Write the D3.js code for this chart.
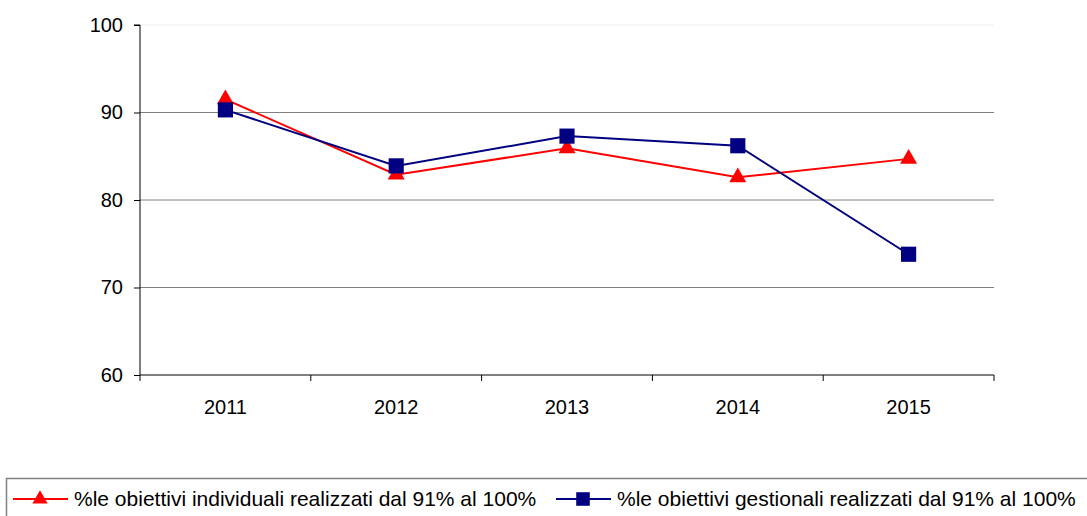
<!DOCTYPE html>
<html>
<head>
<meta charset="utf-8">
<script src="https://cdn.jsdelivr.net/npm/d3@7"></script>
<style>
body { margin: 0; background: #fff; }
svg { display: block; font-family: "Liberation Sans", Arial, sans-serif; }
</style>
</head>
<body>
<svg id="chart" width="1087" height="516"></svg>
<script>
const categories = ["2011", "2012", "2013", "2014", "2015"];
const seriesNames = [
  "%le obiettivi individuali realizzati dal 91% al 100%",
  "%le obiettivi gestionali realizzati dal 91% al 100%"
];
const individuali = [91.5, 82.9, 85.9, 82.6, 84.7];
const gestionali = [90.3, 83.9, 87.3, 86.2, 73.8];
const yTicks = [60, 70, 80, 90, 100];

const svg = d3.select("#chart");
const mLeft = 140, mRight = 994, mTop = 25, mBottom = 375;

const x = d3.scaleBand().domain(categories).range([mLeft, mRight]).padding(0);
const y = d3.scaleLinear().domain([60, 100]).range([mBottom, mTop]);
const cx = d => x(d) + x.bandwidth() / 2;

// gridlines
svg.append("g").selectAll("line")
  .data(yTicks.filter(t => t > 60))
  .join("line")
  .attr("x1", mLeft).attr("x2", mRight)
  .attr("y1", d => y(d)).attr("y2", d => y(d))
  .attr("stroke", d => d === 100 ? "#eeeeee" : "#808080")
  .attr("stroke-width", 1);

// y axis
const yAxis = svg.append("g").attr("transform", `translate(${mLeft},0)`)
  .call(d3.axisLeft(y).tickValues(yTicks).tickSize(6).tickPadding(11).tickFormat(d3.format("d")));
yAxis.select(".domain").attr("stroke", "#000").attr("d", `M-6,${mTop}H0V${mBottom}`);
yAxis.selectAll("text").attr("font-size", 20).attr("fill", "#000").attr("font-family", "Liberation Sans, Arial, sans-serif");
yAxis.selectAll(".tick line").attr("stroke", "#000");

// x axis
const xAxis = svg.append("g").attr("transform", `translate(0,${mBottom})`);
xAxis.append("line").attr("x1", mLeft).attr("x2", mRight).attr("y1", 0).attr("y2", 0).attr("stroke", "#000");
const xTickPos = categories.map(c => x(c)).concat([x(categories[categories.length - 1]) + x.bandwidth()]);
xAxis.selectAll("line.tk").data(xTickPos).join("line").attr("class", "tk")
  .attr("x1", d => d).attr("x2", d => d).attr("y1", 0).attr("y2", 6).attr("stroke", "#000");
xAxis.selectAll("text").data(categories).join("text")
  .attr("x", d => cx(d)).attr("y", 39)
  .attr("text-anchor", "middle").attr("font-size", 20).attr("fill", "#000")
  .text(d => d);

const line = d3.line().x((d, i) => cx(categories[i])).y(d => y(d));

const series = [
  { name: seriesNames[0], values: individuali, color: "#ff0000", symbol: d3.symbolTriangle, size: 125 },
  { name: seriesNames[1], values: gestionali, color: "#000080", symbol: d3.symbolSquare, size: 230 }
];

series.forEach(s => {
  svg.append("path").datum(s.values)
    .attr("d", line).attr("fill", "none").attr("stroke", s.color).attr("stroke-width", 2);
});
series.forEach(s => {
  svg.append("g").selectAll("path").data(s.values).join("path")
    .attr("transform", (d, i) => `translate(${cx(categories[i])},${y(d)})`)
    .attr("d", d3.symbol().type(s.symbol).size(s.size))
    .attr("fill", s.color);
});

// legend
const lg = svg.append("g");
lg.append("rect").attr("x", 6.5).attr("y", 478.5).attr("width", 1090).attr("height", 60)
  .attr("fill", "none").attr("stroke", "#808080").attr("stroke-width", 1.5);
const legendX = [13, 556];
series.forEach((s, i) => {
  const g = lg.append("g").attr("transform", `translate(${legendX[i]},499)`);
  g.append("line").attr("x1", 0).attr("x2", 55).attr("stroke", s.color).attr("stroke-width", 2);
  g.append("path").attr("transform", "translate(27,0)")
    .attr("d", d3.symbol().type(s.symbol).size(s.size * 0.8)).attr("fill", s.color);
  g.append("text").attr("x", 61).attr("y", 7).attr("font-size", 21).attr("fill", "#000").text(s.name);
});
</script>
</body>
</html>
